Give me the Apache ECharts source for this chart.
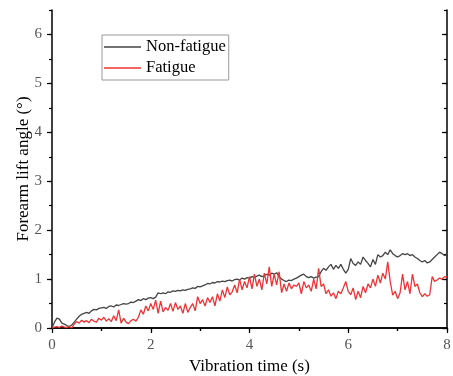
<!DOCTYPE html>
<html><head><meta charset="utf-8">
<script src="https://cdn.jsdelivr.net/npm/echarts@6/dist/echarts.min.js"></script>
<style>html,body{margin:0;padding:0;background:#fff}#c{width:453px;height:376px}</style>
</head><body><div id="c"></div>
<script>
// Sampling step of the recorded signal (s)
const sampleStep = 0.05;
// Non-fatigue forearm lift angle (deg), samples at t = 0, 0.05, ... 8.0
const nonFatigue = [
 0, 0.12, 0.2, 0.18, 0.1, 0.08, 0.05, 0.03, 0.06, 0.12,
 0.18, 0.24, 0.28, 0.3, 0.32, 0.3, 0.35, 0.38, 0.37, 0.4,
 0.41, 0.42, 0.4, 0.44, 0.45, 0.43, 0.47, 0.46, 0.48, 0.5,
 0.49, 0.5, 0.53, 0.52, 0.55, 0.58, 0.56, 0.6, 0.58, 0.61,
 0.62, 0.6, 0.63, 0.72, 0.7, 0.72, 0.7, 0.74, 0.73, 0.76,
 0.75, 0.77, 0.76, 0.78, 0.77, 0.79, 0.8, 0.82, 0.81, 0.85,
 0.84, 0.86, 0.88, 0.91, 0.9, 0.93, 0.92, 0.95, 0.94, 0.96,
 0.95, 0.97, 0.98, 0.96, 0.99, 1.0, 0.98, 1.02, 1.0, 1.03,
 1.02, 1.05, 1.04, 1.06, 1.08, 1.05, 1.07, 1.1, 1.08, 1.12,
 1.1, 1.13, 1.05, 1.0, 0.97, 0.95, 0.98, 0.97, 1.0, 1.02,
 1.05, 1.08, 1.1, 1.05, 1.03, 1.05, 1.02, 1.04, 1.05, 1.15,
 1.22, 1.18, 1.25, 1.3, 1.2, 1.28, 1.22, 1.3, 1.2, 1.12,
 1.2, 1.42, 1.32, 1.28, 1.35, 1.3, 1.45, 1.38, 1.32, 1.25,
 1.4, 1.3, 1.5, 1.45, 1.48, 1.55, 1.5, 1.6, 1.52, 1.48,
 1.45, 1.48, 1.52, 1.5, 1.52, 1.48, 1.5, 1.45, 1.42, 1.38,
 1.35, 1.38, 1.33, 1.35, 1.4, 1.45, 1.5, 1.55, 1.52, 1.48,
 1.5
];
// Fatigue forearm lift angle (deg)
const fatigue = [
 0, 0.02, 0.03, 0.01, 0.04, 0.02, 0.01, 0.03, 0.0, 0.08,
 0.13, 0.1, 0.16, 0.12, 0.15, 0.11, 0.18, 0.14, 0.12, 0.2,
 0.16, 0.22, 0.14, 0.19, 0.13, 0.25, 0.15, 0.37, 0.1, 0.2,
 0.12, 0.09, 0.15, 0.18, 0.14, 0.22, 0.37, 0.28, 0.45, 0.35,
 0.5, 0.38, 0.57, 0.3, 0.55, 0.33, 0.42, 0.36, 0.5, 0.34,
 0.52, 0.38, 0.45, 0.3, 0.5, 0.32, 0.42, 0.5, 0.35, 0.64,
 0.5, 0.58, 0.45, 0.62, 0.52, 0.64, 0.45, 0.7, 0.55, 0.78,
 0.62, 0.84, 0.68, 0.74, 0.88, 0.72, 1.0, 0.78, 0.95, 0.82,
 1.05, 0.8, 1.1, 0.85, 1.0, 0.78, 1.12, 0.9, 1.25, 0.85,
 1.1, 0.88, 1.15, 0.72, 0.9, 0.75, 0.92, 0.8, 0.88, 0.85,
 0.92, 0.7, 0.95, 0.82, 0.88, 0.75, 1.0, 0.8, 1.22, 0.85,
 0.9, 0.7, 0.78, 0.65, 0.72, 0.6, 0.75, 0.7, 0.82, 0.95,
 0.75, 0.68, 0.82, 0.58, 0.75, 0.62, 0.85, 0.72, 0.9, 0.82,
 1.0, 0.85, 1.08, 0.92, 1.12, 1.0, 1.35, 0.95, 0.67, 0.75,
 0.6, 0.72, 1.1, 0.78, 0.95, 0.7, 1.1, 0.85, 0.9, 0.72,
 0.64, 0.7, 0.65, 0.68, 1.05, 0.95, 0.98, 1.02, 1.0, 1.05,
 1.04
];
const yTickValues = [0, 1, 2, 3, 4, 5, 6];
const seriesNames = ['Non-fatigue', 'Fatigue'];

const toPairs = arr => arr.map((v, i) => [+(i * sampleStep).toFixed(2), v]);
const FONT = '"Liberation Serif", "Times New Roman", serif';
const AX = { lineStyle: { color: '#000', width: 1.5 } };

const chart = echarts.init(document.getElementById('c'), null, { renderer: 'canvas' });
chart.setOption({
  animation: false,
  backgroundColor: '#fff',
  grid: { left: 52, right: 6, top: 10, bottom: 48, containLabel: false, outerBoundsMode: 'none' },
  legend: {
    orient: 'vertical', left: 102, top: 35,
    padding: [3, 3, 3, 2], itemWidth: 37, itemHeight: 1.6, itemGap: 3,
    icon: 'rect',
    borderColor: '#999', borderWidth: 1,
    textStyle: { fontFamily: FONT, fontSize: 16.5, color: '#000', padding: [0, 0, 0, 0], lineHeight: 18 },
    data: seriesNames
  },
  xAxis: [
    {
      type: 'value', position: 'bottom', min: 0, max: 8, interval: 2,
      axisLine: AX,
      axisTick: { show: true, inside: false, length: 5, lineStyle: { color: '#000', width: 1.2 } },
      minorTick: { show: true, splitNumber: 2, length: 3, lineStyle: { color: '#000', width: 1.2 } },
      splitLine: { show: false },
      axisLabel: { fontFamily: FONT, fontSize: 15, color: '#555', margin: 10 },
      name: 'Vibration time (s)', nameLocation: 'middle', nameGap: 30,
      nameTextStyle: { fontFamily: FONT, fontSize: 17, color: '#000' }
    },
    {
      type: 'value', position: 'top', min: 0, max: 8, interval: 1,
      axisLine: AX,
      axisTick: { show: true, inside: true, length: 3, lineStyle: { color: '#000', width: 1.2 } },
      axisLabel: { show: false }, splitLine: { show: false }
    }
  ],
  yAxis: [
    {
      type: 'value', position: 'left', min: 0, max: 6.5, interval: 1,
      axisLine: AX,
      axisTick: { show: true, inside: false, length: 5, customValues: yTickValues, lineStyle: { color: '#000', width: 1.2 } },
      axisLabel: { fontFamily: FONT, fontSize: 15, color: '#555', margin: 10, customValues: yTickValues },
      splitLine: { show: false },
      name: 'Forearm lift angle (°)', nameLocation: 'middle', nameGap: 20, nameMoveOverlap: false,
      nameTextStyle: { fontFamily: FONT, fontSize: 17, color: '#000' }
    },
    {
      type: 'value', position: 'left', min: 0, max: 6.5, interval: 0.5,
      axisLine: { show: false },
      axisTick: { show: true, inside: false, length: 3, lineStyle: { color: '#000', width: 1.2 } },
      axisLabel: { show: false }, splitLine: { show: false }
    },
    {
      type: 'value', position: 'right', min: 0, max: 6.5, interval: 1,
      axisLine: AX,
      axisTick: { show: true, inside: true, length: 5, customValues: yTickValues, lineStyle: { color: '#000', width: 1.2 } },
      axisLabel: { show: false }, splitLine: { show: false }
    },
    {
      type: 'value', position: 'right', min: 0, max: 6.5, interval: 0.5,
      axisLine: { show: false },
      axisTick: { show: true, inside: true, length: 3, lineStyle: { color: '#000', width: 1.2 } },
      axisLabel: { show: false }, splitLine: { show: false }
    }
  ],
  series: [
    {
      name: seriesNames[0], type: 'line', xAxisIndex: 0, yAxisIndex: 0,
      data: toPairs(nonFatigue), symbol: 'none', showSymbol: false,
      lineStyle: { color: '#444', width: 1.3 }, itemStyle: { color: '#444' }, z: 3
    },
    {
      name: seriesNames[1], type: 'line', xAxisIndex: 0, yAxisIndex: 0,
      data: toPairs(fatigue), symbol: 'none', showSymbol: false,
      lineStyle: { color: '#ee3333', width: 1.3 }, itemStyle: { color: '#ee3333' }, z: 4
    }
  ]
});
</script></body></html>
